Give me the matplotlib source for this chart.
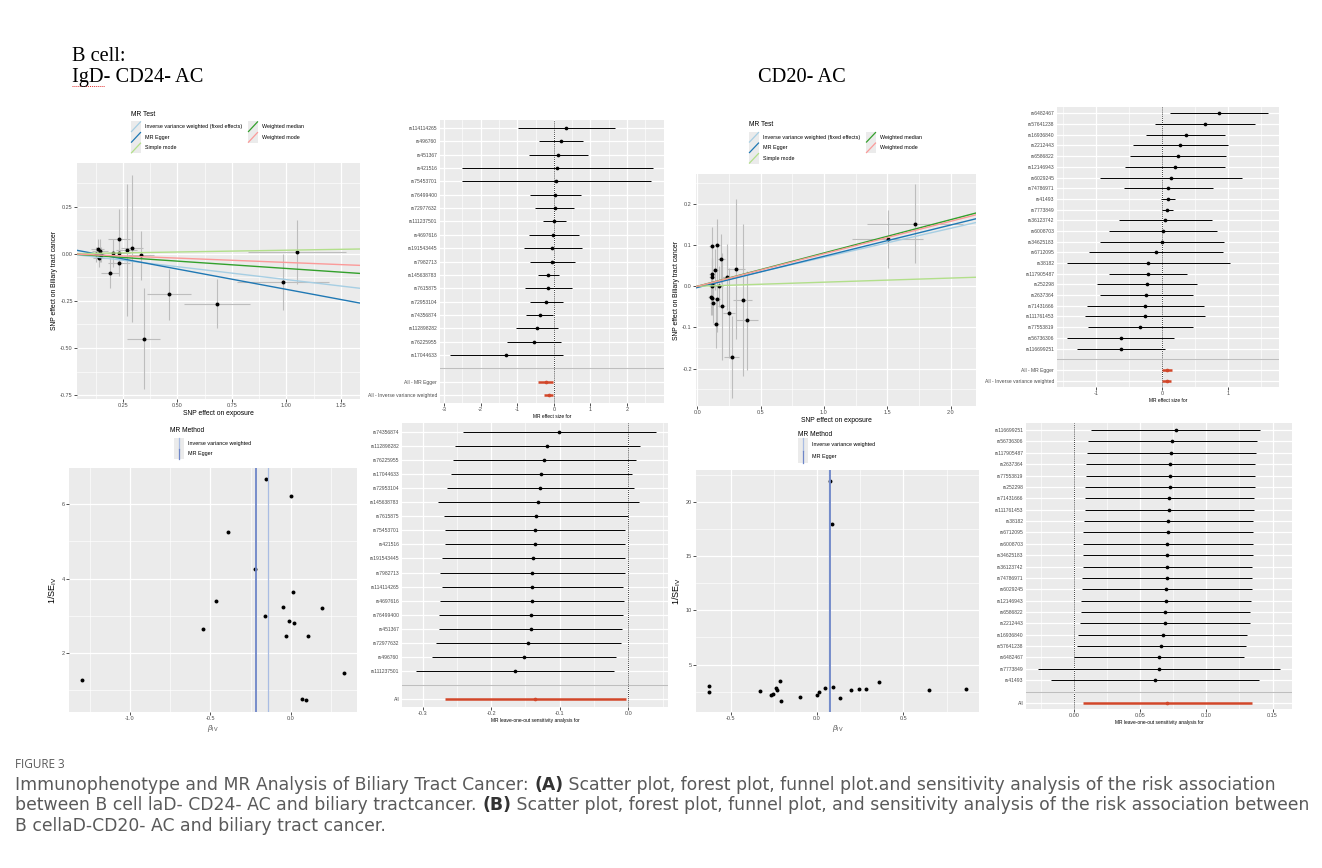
import numpy as np
import matplotlib
matplotlib.use('Agg')
import matplotlib.pyplot as plt
from matplotlib.patches import Rectangle

plt.rcParams['font.family'] = ['Liberation Sans', 'DejaVu Sans']
plt.rcParams['mathtext.fontset'] = 'custom'
plt.rcParams['mathtext.rm'] = 'Liberation Sans'
plt.rcParams['mathtext.it'] = 'Liberation Sans:italic'

W, H = 1322, 868
RED = '#D2472A'
METHODS = ['Inverse variance weighted (fixed effects)', 'MR Egger', 'Simple mode',
           'Weighted median', 'Weighted mode']
METHOD_COLORS = ['#a6cee3', '#1f78b4', '#b2df8a', '#33a02c', '#fb9a99']
FUNNEL_METHODS = ['Inverse variance weighted', 'MR Egger']
FUNNEL_COLORS = ['#A9BCE3', '#6E86C8']

# ---------------- (A) IgD- CD24- AC ----------------
# scatter
a_bx = [0.134, 0.146, 0.149, 0.143, 0.128, 0.192, 0.207, 0.233, 0.233, 0.233,
        0.267, 0.293, 0.334, 0.346, 0.461, 0.682, 0.984, 1.050]
a_by = [0.027, 0.016, -0.004, -0.021, -0.002, -0.103, 0.005, 0.080, 0.005, -0.050,
        0.019, 0.030, -0.009, -0.450, -0.214, -0.264, -0.150, 0.007]
a_bx_se = [0.03, 0.035, 0.03, 0.03, 0.03, 0.04, 0.03, 0.05, 0.05, 0.05,
           0.05, 0.05, 0.06, 0.075, 0.10, 0.15, 0.21, 0.225]
a_by_se = [0.05, 0.06, 0.04, 0.05, 0.04, 0.08, 0.075, 0.16, 0.065, 0.07,
           0.35, 0.39, 0.13, 0.27, 0.135, 0.13, 0.15, 0.17]
a_slopes = [-0.137, -0.216, 0.019, -0.078, -0.046]
a_intercepts = [0.0, 0.027, 0.0, 0.0, 0.0]

# forest
a_snps = ['rs114114265', 'rs496760', 'rs451367', 'rs421516', 'rs75453701', 'rs76499400',
          'rs72977632', 'rs111237501', 'rs4697616', 'rs191543445', 'rs7982713',
          'rs145638783', 'rs7615875', 'rs72953104', 'rs74356874', 'rs112898282',
          'rs76225955', 'rs17044633']
a_b = [0.346, 0.19, 0.11, 0.10, 0.07, 0.03, 0.02, 0.01, -0.01, -0.04, -0.05,
       -0.15, -0.15, -0.22, -0.38, -0.46, -0.55, -1.30]
a_lo = [-0.99, -0.40, -0.67, -2.50, -2.50, -0.66, -0.51, -0.30, -0.69, -0.82, -0.65,
        -0.44, -0.80, -0.66, -0.76, -1.04, -1.28, -2.84]
a_hi = [1.68, 0.81, 0.92, 2.72, 2.66, 0.73, 0.56, 0.33, 0.68, 0.77, 0.57,
        0.15, 0.49, 0.24, -0.02, 0.12, 0.20, 0.24]
sum_labels = ['All - MR Egger', 'All - Inverse variance weighted']
a_sum_b = [-0.22, -0.14]
a_sum_lo = [-0.43, -0.26]
a_sum_hi = [-0.01, -0.01]

# funnel
a_fun_b = [-0.156, 0.004, -0.388, -0.224, -0.467, -0.548, -0.160, -0.048, 0.017,
           0.193, -0.012, 0.023, -0.031, 0.108, -1.301, 0.332, 0.073, 0.098]
a_fun_invse = [6.67, 6.21, 5.26, 4.26, 3.40, 2.65, 3.01, 3.23, 3.65,
               3.22, 2.85, 2.81, 2.46, 2.45, 1.28, 1.47, 0.76, 0.75]
a_fun_lines = [-0.139, -0.216]

# leave-one-out
a_loo_snps = ['rs74356874', 'rs112898282', 'rs76225955', 'rs17044633', 'rs72953104',
              'rs145638783', 'rs7615875', 'rs75453701', 'rs421516', 'rs191543445',
              'rs7982713', 'rs114114265', 'rs4697616', 'rs76499400', 'rs451367',
              'rs72977632', 'rs496760', 'rs111237501']
a_loo_b = [-0.1006, -0.118, -0.1225, -0.127, -0.128, -0.132, -0.1347, -0.1366, -0.1366,
           -0.1386, -0.140, -0.140, -0.1405, -0.1415, -0.1424, -0.1458, -0.1522, -0.1658]
a_loo_lo = [-0.2406, -0.252, -0.2557, -0.2586, -0.265, -0.278, -0.269, -0.267, -0.267,
            -0.271, -0.2747, -0.272, -0.2747, -0.2757, -0.2757, -0.281, -0.2863, -0.3097]
a_loo_hi = [0.040, 0.0175, 0.0112, 0.005, 0.0088, 0.0156, -0.0005, -0.0044, -0.0044,
            -0.0053, -0.0053, -0.0073, -0.0063, -0.0073, -0.0088, -0.0107, -0.0175, -0.0209]
a_loo_all = [-0.136, -0.2674, -0.0039]

# ---------------- (B) CD20- AC ----------------
b_bx = [0.113, 0.155, 0.187, 0.142, 0.116, 0.113, 0.118, 0.116, 0.171, 0.237, 0.308,
        0.108, 0.118, 0.155, 0.124, 0.192, 0.358, 0.250, 0.147, 0.395, 0.271, 1.503, 1.721]
b_by = [0.098, 0.100, 0.067, 0.040, 0.029, 0.023, 0.006, 0.0, 0.0, 0.023, 0.042,
        -0.025, -0.028, -0.032, -0.040, -0.049, -0.034, -0.065, -0.091, -0.083, -0.171,
        0.115, 0.152]
b_bx_se = [0.02, 0.025, 0.03, 0.02, 0.02, 0.02, 0.02, 0.02, 0.03, 0.04, 0.07,
           0.02, 0.02, 0.025, 0.02, 0.03, 0.076, 0.05, 0.025, 0.088, 0.057, 0.28, 0.38]
b_by_se = [0.045, 0.063, 0.06, 0.05, 0.04, 0.04, 0.045, 0.07, 0.05, 0.08, 0.17,
           0.045, 0.04, 0.08, 0.05, 0.13, 0.185, 0.11, 0.06, 0.12, 0.10, 0.07, 0.096]
b_slopes = [0.0705, 0.076, 0.010, 0.081, 0.079]
b_intercepts = [0.0, -0.003, 0.0, 0.0, 0.0]

b_snps = ['rs6482467', 'rs57641238', 'rs16936840', 'rs2212443', 'rs6586822',
          'rs12146943', 'rs6029245', 'rs74786971', 'rs41493', 'rs7773849', 'rs36123742',
          'rs6008703', 'rs34625183', 'rs6712095', 'rs38182', 'rs117905487', 'rs252298',
          'rs2637364', 'rs71431666', 'rs111761453', 'rs77553819', 'rs56736306',
          'rs116699251']
b_b = [0.864, 0.646, 0.359, 0.278, 0.237, 0.197, 0.136, 0.096, 0.086, 0.071, 0.045,
       0.010, 0.005, -0.096, -0.207, -0.212, -0.227, -0.237, -0.253, -0.263, -0.328,
       -0.626, -0.626]
b_lo = [0.126, -0.10, -0.237, -0.44, -0.485, -0.556, -0.934, -0.58, -0.015, -0.005,
        -0.657, -0.81, -0.934, -1.11, -1.44, -0.80, -0.98, -0.94, -1.14, -1.16, -1.126,
        -1.434, -1.293]
b_hi = [1.606, 1.404, 0.955, 1.005, 0.97, 0.955, 1.212, 0.773, 0.19, 0.16, 0.753,
        0.833, 0.94, 0.919, 1.025, 0.374, 0.525, 0.465, 0.641, 0.646, 0.475, 0.187, 0.04]
b_sum_b = [0.076, 0.070]
b_sum_lo = [0.005, 0.006]
b_sum_hi = [0.147, 0.134]

b_fun_b = [-0.626, -0.626, -0.328, -0.266, -0.254, -0.239, -0.229, -0.216, -0.206,
           -0.096, 0.002, 0.010, 0.044, 0.075, 0.085, 0.094, 0.135, 0.195, 0.241,
           0.281, 0.356, 0.647, 0.861]
b_fun_invse = [3.02, 2.47, 2.53, 2.22, 2.28, 2.87, 2.65, 3.46, 1.67, 2.01, 2.16, 2.47,
               2.87, 22.0, 17.99, 2.96, 1.91, 2.68, 2.78, 2.78, 3.40, 2.68, 2.72]
b_fun_lines = [0.070, 0.076]

b_loo_snps = ['rs116699251', 'rs56736306', 'rs117905487', 'rs2637364', 'rs77553819',
              'rs252298', 'rs71431666', 'rs111761453', 'rs38182', 'rs6712095',
              'rs6008703', 'rs34625183', 'rs36123742', 'rs74786971', 'rs6029245',
              'rs12146943', 'rs6586822', 'rs2212443', 'rs16936840', 'rs57641238',
              'rs6482467', 'rs7773849', 'rs41493']
b_loo_b = [0.0768, 0.0745, 0.0737, 0.073, 0.073, 0.0727, 0.072, 0.072, 0.0712, 0.0712,
           0.0707, 0.0707, 0.0705, 0.0702, 0.070, 0.0695, 0.0692, 0.0687, 0.0672, 0.0662,
           0.0644, 0.0644, 0.0612]
b_loo_lo = [0.0128, 0.0108, 0.0098, 0.0091, 0.0093, 0.0088, 0.0083, 0.0083, 0.0076,
            0.0073, 0.007, 0.007, 0.0068, 0.0065, 0.0063, 0.0055, 0.0053, 0.0048, 0.0033,
            0.0025, 0.0005, -0.0267, -0.0174]
b_loo_hi = [0.1407, 0.1384, 0.1377, 0.1369, 0.1369, 0.1367, 0.1359, 0.1359, 0.1352,
            0.1352, 0.1349, 0.1349, 0.1347, 0.1344, 0.1342, 0.1334, 0.1331, 0.1329,
            0.1311, 0.1301, 0.1284, 0.1553, 0.1397]
b_loo_all = [0.0705, 0.0068, 0.1342]


fig = plt.figure(figsize=(13.22, 8.68), dpi=100)
ov = fig.add_axes([0, 0, 1, 1])
ov.set_xlim(0, W)
ov.set_ylim(H, 0)
ov.axis('off')


def add_ax(l, t, r, b):
    return fig.add_axes([l / W, 1 - b / H, (r - l) / W, (b - t) / H])


def gg(ax, xlim, ylim, xmaj, xlab, xmin, ymaj=None, ylab=None, ymin=()):
    ax.set_facecolor('#EBEBEB')
    for s in ax.spines.values():
        s.set_visible(False)
    ax.set_xlim(xlim)
    ax.set_ylim(ylim)
    ax.set_xticks(xmaj)
    ax.set_xticklabels(xlab)
    ax.set_xticks(xmin, minor=True)
    if ymaj is not None:
        ax.set_yticks(ymaj)
        ax.set_yticklabels(ylab)
    ax.set_yticks(ymin, minor=True)
    ax.grid(True, which='major', color='white', lw=0.9)
    ax.grid(True, which='minor', color='white', lw=0.45)
    ax.tick_params(which='major', length=2, width=0.6, color='#333333',
                   labelsize=4, labelcolor='#4D4D4D', pad=1)
    ax.tick_params(which='minor', length=0)
    ax.set_axisbelow(True)


def scatter_panel(ax, bx, by, sx, sy, slopes, ints):
    ax.errorbar(bx, by, yerr=sy, fmt='none', ecolor='#BDBDBD', elinewidth=0.8)
    ax.errorbar(bx, by, xerr=sx, fmt='none', ecolor='#BDBDBD', elinewidth=0.8)
    ax.scatter(bx, by, s=8, c='black', zorder=3, linewidths=0)
    for s, i, c in zip(slopes, ints, METHOD_COLORS):
        ax.axline((0, i), slope=s, color=c, lw=1.0, zorder=4)
    ax.set_xlabel('SNP effect on exposure', fontsize=4.9, labelpad=1.5)
    ax.set_ylabel('SNP effect on Biliary tract cancer', fontsize=4.9, labelpad=1.5)


def forest_panel(ax, snps, b, lo, hi, slabels, sb, slo, shi, xtitle):
    k, n = len(slabels), len(snps)
    y_snp = k + 1 + np.arange(n, 0, -1)
    y_sum = np.arange(k, 0, -1)
    ax.set_ylim(0.4, k + 1 + n + 0.6)
    ax.axvline(0, color='black', ls=(0, (1, 1.5)), lw=0.6, zorder=1.5)
    ax.hlines(y_snp, lo, hi, color='black', lw=0.7)
    ax.scatter(b, y_snp, s=7, c='black', zorder=3, linewidths=0)
    ax.hlines(y_sum, slo, shi, color=RED, lw=1.8)
    ax.scatter(sb, y_sum, s=7, c=RED, zorder=3, linewidths=0)
    ax.axhline(k + 1, color='#BEBEBE', lw=0.8)
    ax.set_yticks(list(y_snp) + [k + 1] + list(y_sum))
    ax.set_yticklabels(list(snps) + [''] + list(slabels))
    ax.tick_params(axis='y', which='major', length=0, labelsize=3.6, pad=2)
    ax.set_xlabel(xtitle, fontsize=3.5, labelpad=1.5)


def funnel_panel(ax, b, invse, lines):
    ax.scatter(b, invse, s=8, c='black', zorder=3, linewidths=0)
    for xv, c, lw in zip(lines, FUNNEL_COLORS, [0.9, 1.3]):
        ax.axvline(xv, color=c, lw=lw, zorder=4)
    ax.set_xlabel(r'$\beta_{\mathrm{IV}}$', fontsize=5.5, color='#4D4D4D', labelpad=1.5)
    ax.set_ylabel(r'$\mathrm{1/SE_{IV}}$', fontsize=6.5, labelpad=2)


def mr_test_legend(x, y, col2_x, row_y0, row_h):
    ov.text(x, y, 'MR Test', fontsize=4.8, va='center')
    for i, (m, c) in enumerate(zip(METHODS, METHOD_COLORS)):
        kx = x if i < 3 else col2_x
        row = i if i < 3 else i - 3
        ky = row_y0 + row * row_h
        ov.add_patch(Rectangle((kx, ky - row_h / 2), 10, row_h, fc='#EBEBEB', ec='none'))
        ov.plot([kx + 0.5, kx + 9.5], [ky + row_h / 2 - 0.5, ky - row_h / 2 + 0.5],
                color=c, lw=0.9)
        ov.text(kx + 14, ky, m, fontsize=3.9, va='center')


def mr_method_legend(x, y, key_x, row_y0, row_h):
    ov.text(x, y, 'MR Method', fontsize=4.8, va='center')
    for i, (m, c) in enumerate(zip(FUNNEL_METHODS, FUNNEL_COLORS)):
        ky = row_y0 + i * row_h
        ov.add_patch(Rectangle((key_x, ky - row_h / 2), 10, row_h, fc='#EBEBEB', ec='none'))
        ov.plot([key_x + 5, key_x + 5], [ky - row_h / 2, ky + row_h / 2], color=c, lw=0.9)
        ov.text(key_x + 14, ky, m, fontsize=3.9, va='center')


# ---- titles ----
serif = ['Liberation Serif', 'DejaVu Serif']
ov.text(72, 61, 'B cell:', family=serif, fontsize=14.7, va='baseline')
ov.text(72, 82, 'IgD- CD24- AC', family=serif, fontsize=14.7, va='baseline')
ov.plot([72, 105], [86, 86], color='#E03030', lw=0.7, ls=(0, (1, 1)))
ov.text(758, 82, 'CD20- AC', family=serif, fontsize=14.7, va='baseline')

# ---- A scatter ----
ax = add_ax(77, 163, 360, 399)
gg(ax, (0.04, 1.337), (-0.771, 0.482),
   [0.25, 0.5, 0.75, 1.0, 1.25], ['0.25', '0.50', '0.75', '1.00', '1.25'],
   [0.125, 0.375, 0.625, 0.875, 1.125],
   [-0.75, -0.5, -0.25, 0.0, 0.25], ['-0.75', '-0.50', '-0.25', '0.00', '0.25'],
   [-0.625, -0.375, -0.125, 0.125, 0.375])
scatter_panel(ax, a_bx, a_by, a_bx_se, a_by_se, a_slopes, a_intercepts)
mr_test_legend(131, 115, 248, 126.7, 10.65)

# ---- A forest ----
ax = add_ax(440, 120, 664, 403)
gg(ax, (-3.11, 3.01), (0, 1), [-3, -2, -1, 0, 1, 2], ['-3', '-2', '-1', '0', '1', '2'],
   [-2.5, -1.5, -0.5, 0.5, 1.5, 2.5])
forest_panel(ax, a_snps, a_b, a_lo, a_hi, sum_labels, a_sum_b, a_sum_lo, a_sum_hi,
             'MR effect size for')

# ---- A funnel ----
ax = add_ax(69, 468, 357, 712)
gg(ax, (-1.38, 0.413), (0.42, 6.97), [-1.0, -0.5, 0.0], ['-1.0', '-0.5', '0.0'],
   [-1.25, -0.75, -0.25, 0.25], [2, 4, 6], ['2', '4', '6'], [1, 3, 5])
funnel_panel(ax, a_fun_b, a_fun_invse, a_fun_lines)
mr_method_legend(170, 431, 174, 443.3, 10.7)

# ---- A leave-one-out ----
ax = add_ax(402, 423, 668, 707)
gg(ax, (-0.330, 0.058), (0, 1), [-0.3, -0.2, -0.1, 0.0], ['-0.3', '-0.2', '-0.1', '0.0'],
   [-0.25, -0.15, -0.05, 0.05])
forest_panel(ax, a_loo_snps, a_loo_b, a_loo_lo, a_loo_hi, ['All'], [a_loo_all[0]],
             [a_loo_all[1]], [a_loo_all[2]], 'MR leave-one-out sensitivity analysis for')
ax.set_ylim(0.45, 20.62)

# ---- B scatter ----
ax = add_ax(696, 174, 976, 406)
gg(ax, (-0.01, 2.2), (-0.291, 0.273), [0, 0.5, 1.0, 1.5, 2.0],
   ['0.0', '0.5', '1.0', '1.5', '2.0'], [0.25, 0.75, 1.25, 1.75],
   [-0.2, -0.1, 0.0, 0.1, 0.2], ['-0.2', '-0.1', '0.0', '0.1', '0.2'],
   [-0.25, -0.15, -0.05, 0.05, 0.15, 0.25])
scatter_panel(ax, b_bx, b_by, b_bx_se, b_by_se, b_slopes, b_intercepts)
mr_test_legend(749, 125, 866, 137.3, 10.5)

# ---- B forest ----
ax = add_ax(1057, 107, 1279, 387)
gg(ax, (-1.59, 1.77), (0, 1), [-1, 0, 1], ['-1', '0', '1'], [-1.5, -0.5, 0.5, 1.5])
forest_panel(ax, b_snps, b_b, b_lo, b_hi, sum_labels, b_sum_b, b_sum_lo, b_sum_hi,
             'MR effect size for')

# ---- B funnel ----
ax = add_ax(696, 470, 979, 712)
gg(ax, (-0.70, 0.9375), (0.61, 22.99), [-0.5, 0.0, 0.5], ['-0.5', '0.0', '0.5'],
   [-0.25, 0.25, 0.75], [5, 10, 15, 20], ['5', '10', '15', '20'],
   [2.5, 7.5, 12.5, 17.5, 22.5])
funnel_panel(ax, b_fun_b, b_fun_invse, b_fun_lines)
mr_method_legend(798, 434, 798, 444.5, 12.2)

# ---- B leave-one-out ----
ax = add_ax(1026, 423, 1292, 709)
gg(ax, (-0.036, 0.1647), (0, 1), [0.0, 0.05, 0.10, 0.15], ['0.00', '0.05', '0.10', '0.15'],
   [-0.025, 0.025, 0.075, 0.125])
forest_panel(ax, b_loo_snps, b_loo_b, b_loo_lo, b_loo_hi, ['All'], [b_loo_all[0]],
             [b_loo_all[1]], [b_loo_all[2]], 'MR leave-one-out sensitivity analysis for')
ax.set_ylim(0.47, 25.62)

# ---- caption ----
cap_font = ['DejaVu Sans']
cap_size = 12.4
cap_col = '#5A5A5A'
ov.text(15, 768, 'FIGURE 3', family=['Open Sans', 'DejaVu Sans'], fontsize=8.5,
        color=cap_col, va='baseline')


def rich_line(x, y, parts):
    t = ov.text(x, y, parts[0][0], family=cap_font, fontsize=cap_size, color=cap_col,
                fontweight=parts[0][1], va='baseline')
    for s, w in parts[1:]:
        t = ov.annotate(s, xy=(1, 0), xycoords=t, va='bottom', ha='left', family=cap_font,
                        fontsize=cap_size, fontweight=w,
                        color='#333333' if w == 'bold' else cap_col)


rich_line(15, 790, [('Immunophenotype and MR Analysis of Biliary Tract Cancer: ', 'normal'),
                    ('(A)', 'bold'),
                    (' Scatter plot, forest plot, funnel plot.and sensitivity analysis of the '
                     'risk association', 'normal')])
rich_line(15, 810, [('between B cell laD- CD24- AC and biliary tractcancer. ', 'normal'),
                    ('(B)', 'bold'),
                    (' Scatter plot, forest plot, funnel plot, and sensitivity analysis of the '
                     'risk association between', 'normal')])
rich_line(15, 831, [('B cellaD-CD20- AC and biliary tract cancer.', 'normal')])

plt.savefig('out.png', dpi=100)
